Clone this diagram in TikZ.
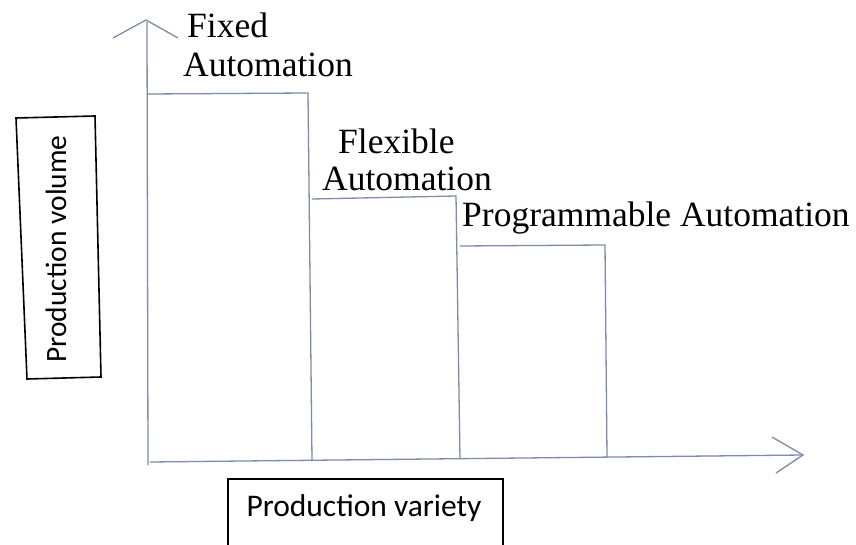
\documentclass[tikz,border=0pt]{standalone}
\usepackage{fontspec}
\setmainfont{Liberation Serif}
\newfontfamily\calib{Carlito}
\definecolor{axisblue}{RGB}{125,140,170}
\begin{document}
\begin{tikzpicture}[x=1pt,y=-1pt,
  axisline/.style={draw=axisblue,line width=1.3pt},
  serlabel/.style={anchor=base west,inner sep=0pt,font=\fontsize{35.5}{40}\selectfont},
  boxline/.style={draw=black,line width=1.6pt}]
\useasboundingbox[fill=white] (0,0) rectangle (856,545);
% axes
\coordinate (o) at (150,462);
\coordinate (ytop) at (146,20);
\coordinate (xend) at (803,455);
\draw[axisline] (148,465) -- (147,22);
\draw[axisline] (113,38) -- (ytop) -- (178,38);
\draw[axisline] (150,462) -- (xend);
\draw[axisline] (772,437) -- (xend) -- (776,473);
% bars
\draw[axisline] (148,94) -- (308,93) -- (312,460);
\draw[axisline] (312,199) -- (456,196) -- (460,459);
\draw[axisline] (460,246) -- (605,245) -- (607,457);
% labels
\node[serlabel] (fx1) at (187,38) {Fixed};
\node[serlabel] (fx2) at (183,77) {Automation};
\node[serlabel] (fl1) at (338,154) {Flexible};
\node[serlabel] (fl2) at (322,191) {Automation};
\node[serlabel] (pr) at (462,227) {Programmable Automation};
% y label box
\draw[boxline] (16,118) -- (95,116) -- (101,377) -- (27,379) -- cycle;
\node[rotate=90,inner sep=0pt,font=\calib\fontsize{29.5}{34}\selectfont] (yl) at (56,249) {Production volume};
% x label box
\draw[boxline] (228,546) -- (228,479) -- (503,479) -- (503,546);
\node[inner sep=0pt,anchor=base,font=\calib\fontsize{31.5}{36}\selectfont] (xl) at (364,516) {Production variety};
\end{tikzpicture}
\end{document}
